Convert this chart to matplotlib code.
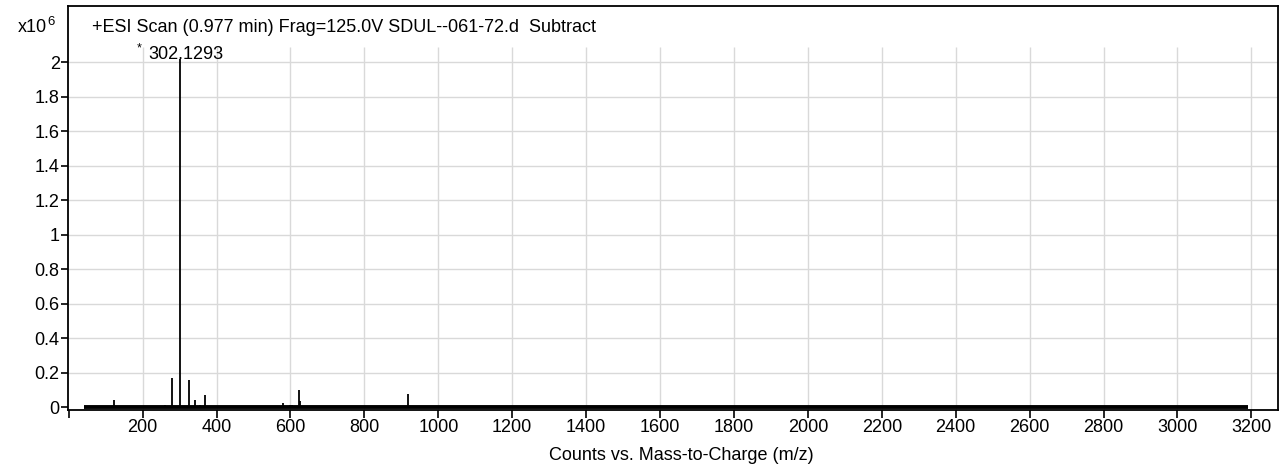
import numpy as np
import matplotlib
matplotlib.use("Agg")
import matplotlib.pyplot as plt

# ── spectrum data (m/z, counts in units of 1e6) ──────────────────────────────
peak_mz = [123.0, 260.5, 278.6, 302.1293, 326.0, 341.0, 355.0, 369.0,
           388.0, 393.0, 402.0, 581.0, 599.0, 603.0, 622.0, 626.0, 919.0]
peak_counts = [0.040, 0.015, 0.170, 2.020, 0.160, 0.040, 0.015, 0.070,
               0.010, 0.010, 0.008, 0.027, 0.015, 0.012, 0.100, 0.037, 0.076]
baseline_mz = [40.0, 3190.0]
baseline_counts = [0.004, 0.004]

x_ticks = [200, 400, 600, 800, 1000, 1200, 1400, 1600, 1800, 2000,
           2200, 2400, 2600, 2800, 3000, 3200]
y_ticks = [0, 0.2, 0.4, 0.6, 0.8, 1.0, 1.2, 1.4, 1.6, 1.8, 2.0]
y_labels = ["0", "0.2", "0.4", "0.6", "0.8", "1", "1.2", "1.4", "1.6", "1.8", "2"]

title = "+ESI Scan (0.977 min) Frag=125.0V SDUL--061-72.d  Subtract"
xlabel = "Counts vs. Mass-to-Charge (m/z)"
peak_label = "302.1293"

FONT = ["Liberation Sans Narrow", "Liberation Sans", "DejaVu Sans"]
plt.rcParams.update({
    "font.family": FONT,
    "font.size": 13,
})

fig = plt.figure(figsize=(12.82, 4.70), dpi=100, facecolor="white")
ax = fig.add_axes([68 / 1282, 1 - 409.5 / 470, (1278 - 68) / 1282, (409.5 - 6) / 470])

XMIN, XMAX = -2, 3272
YMIN, YMAX = -0.0125, 2.326
GRID_TOP = 2.09

# grid (stops below the title strip)
ax.hlines(y_ticks[1:], XMIN, XMAX, color="#d9d9d9", lw=1.0, zorder=0)
ax.vlines(x_ticks, YMIN, GRID_TOP, color="#d9d9d9", lw=1.0, zorder=0)

# spectrum
ax.plot(baseline_mz, baseline_counts, color="black", lw=2.8,
        solid_capstyle="butt", zorder=3)
ax.vlines(peak_mz, 0, peak_counts, color="black", lw=1.3, zorder=3)

# peak annotation
i_max = int(np.argmax(peak_counts))
ax.annotate(peak_label, (peak_mz[i_max], peak_counts[i_max]),
            xytext=(4, -3), textcoords="offset points",
            ha="center", va="bottom", fontsize=13, zorder=4)
ax.annotate("*", (peak_mz[i_max], peak_counts[i_max]),
            xytext=(-30, 3), textcoords="offset points",
            ha="center", va="bottom", fontsize=9, zorder=4)

ax.set_xlim(XMIN, XMAX)
ax.set_ylim(YMIN, YMAX)

ax.set_xticks([0] + x_ticks)
ax.set_xticklabels([""] + [str(t) for t in x_ticks])
ax.set_yticks(y_ticks)
ax.set_yticklabels(y_labels)
ax.tick_params(axis="x", direction="out", length=6, width=1.2, pad=1)
ax.tick_params(axis="y", direction="out", length=5, width=1.2, pad=1)

for side in ["left", "right", "top", "bottom"]:
    ax.spines[side].set_color("black")
    ax.spines[side].set_linewidth(1.3)

ax.text(24 / 1210, 1 - 22 / 403.5, title, transform=ax.transAxes,
        ha="left", va="center", fontsize=13)

ax.set_xlabel(xlabel, fontsize=13, labelpad=3)
ax.xaxis.set_label_coords((681 - 68) / (1278 - 68), -0.092)

# scale factor in the upper left corner
fig.text(18 / 1282, 1 - 28 / 470, "x10", ha="left", va="center", fontsize=13)
fig.text(47 / 1282, 1 - 22 / 470, "6", ha="left", va="center", fontsize=9.5)

fig.savefig("out.png", dpi=100, facecolor="white")
